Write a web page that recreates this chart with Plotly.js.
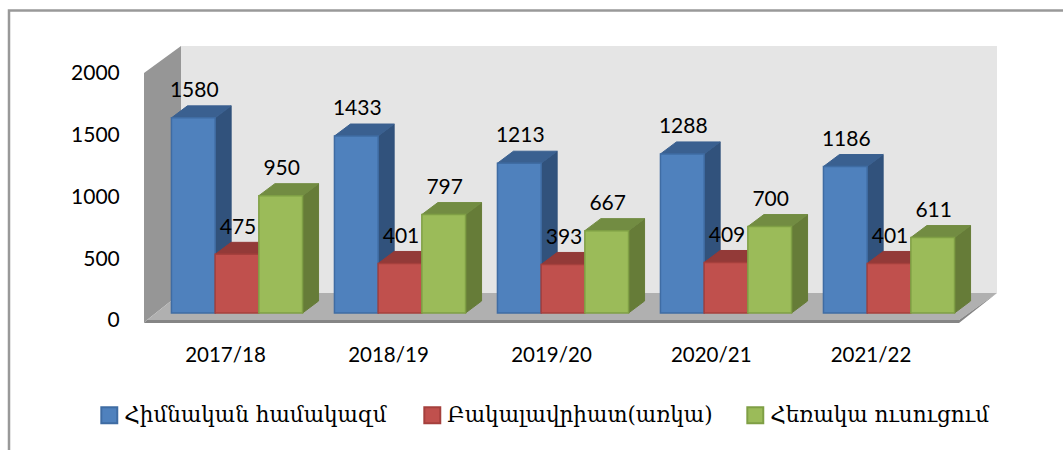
<!DOCTYPE html>
<html>
<head>
<meta charset="utf-8">
<script src="https://cdn.plot.ly/plotly-3.0.1.min.js"></script>
<style>html,body{margin:0;padding:0;background:#fff}#chart{width:1063px;height:450px}</style>
</head>
<body>
<div id="chart"></div>
<script>
const categories = ["2017/18","2018/19","2019/20","2020/21","2021/22"];
const seriesNames = ["Հիմնական համակազմ","Բակալավրիատ(առկա)","Հեռակա ուսուցում"];
const basicStaff = [1580,1433,1213,1288,1186];
const bachelor = [475,401,393,409,401];
const distance = [950,797,667,700,611];
const yTicks = [0,500,1000,1500,2000];

const seriesValues = [basicStaff, bachelor, distance];
const faceColors = ["#4F81BD","#C0504D","#9BBB59"];
const edgeColors = ["#3F6CA3","#A5403D","#7F9F45"];
const sideColors = ["#31527C","#7F3634","#667C38"];
const topColors  = ["#3A6090","#933A38","#728C42"];
const numFont = "Lato, sans-serif";

// Depth geometry in axis units (one category = 163px, 2000 = 247px)
const W = 853, H = 277;
const pxX = 163, pxY = 247/2000;
const xRange = [-0.5, -0.5 + W/pxX];
const yRange = [-3/pxY, (H-3)/pxY];
const barW = 43.7/pxX, groupShift = 11.5/pxX;
const base = 7/pxY, dX = 16/pxX, dY = 12/pxY;
const wallX = 37/pxX, wallY = 27/pxY;
const labelGap = 14/pxY;
const tickSlots = [0,1,2,2.98,3.96];

const traces = [];
seriesValues.forEach((vals, s) => {
  const centers = vals.map((_, i) => i + groupShift + (s-1)*barW);
  const xs = [], ys = [];
  vals.forEach((v, i) => {
    const r = centers[i] + barW/2;
    xs.push(r, r+dX, r+dX, r, r, null);
    ys.push(base, base+dY, base+v+dY, base+v, base, null);
  });
  traces.push({type:"scatter",mode:"lines",x:xs,y:ys,fill:"toself",fillcolor:sideColors[s],
    line:{color:sideColors[s],width:1},showlegend:false,hoverinfo:"skip",zorder:s*3+1});
  const tx = [], ty = [];
  vals.forEach((v, i) => {
    const l = centers[i] - barW/2, r = centers[i] + barW/2;
    tx.push(l, l+dX, r+dX, r, l, null);
    ty.push(base+v, base+v+dY, base+v+dY, base+v, base+v, null);
  });
  traces.push({type:"scatter",mode:"lines",x:tx,y:ty,fill:"toself",fillcolor:topColors[s],
    line:{color:topColors[s],width:1},showlegend:false,hoverinfo:"skip",zorder:s*3+1});
  traces.push({type:"bar",name:seriesNames[s],x:centers,y:vals,base:vals.map(()=>base),width:barW,
    marker:{color:faceColors[s],line:{color:edgeColors[s],width:1.5}},zorder:s*3+2});
});
seriesValues.forEach((vals, s) => {
  traces.push({type:"scatter",mode:"text",showlegend:false,hoverinfo:"skip",zorder:20,
    x:vals.map((_, i) => i + groupShift + (s-1)*barW + 1/pxX),
    y:vals.map(v => base+v+dY+labelGap),
    text:vals.map(String),textposition:"middle center",
    textfont:{family:numFont,size:21,color:"#000"},cliponaxis:false});
});

const x0 = xRange[0], xF = 4.5, xB = xRange[1];
const poly = pts => "M" + pts.map(p => p[0]+","+p[1]).join("L") + "Z";
const stripY = yRange[0];
const xi = 3/pxX;
const bg = [
  [[x0+wallX,wallY+2000],[xB,wallY+2000],[xB,wallY],[x0+wallX,wallY]], "#E5E5E5",
  [[x0,2000],[x0+wallX,2000+wallY],[x0+wallX,wallY],[x0+xi,0],[x0,stripY]], "#969696",
  [[x0+xi,0],[x0+wallX,wallY],[xB,wallY],[xF,0]], "#B0B0B0",
  [[x0,stripY],[x0+xi,0],[xF,0],[xB,wallY],[xF,stripY]], "#858585"
];
const shapes = [];
for (let k=0;k<bg.length;k+=2) {
  shapes.push({type:"path",xref:"x",yref:"y",layer:"below",path:poly(bg[k]),fillcolor:bg[k+1],line:{width:0}});
}
shapes.push({type:"rect",xref:"paper",yref:"paper",xsizemode:"pixel",ysizemode:"pixel",
  xanchor:0,yanchor:1,x0:9-144,x1:1100-144,y0:-10.5+46,y1:-480+46,layer:"below",
  fillcolor:"rgba(0,0,0,0)",line:{color:"#999999",width:2.5}});

const layout = {
  width:1063,height:450,
  margin:{l:144,r:66,t:46,b:127,pad:0},
  paper_bgcolor:"#fff",plot_bgcolor:"rgba(0,0,0,0)",
  barmode:"overlay",showlegend:true,
  font:{family:"Lato, sans-serif",color:"#000"},
  xaxis:{range:xRange,showgrid:false,zeroline:false,showline:false,
    tickmode:"array",tickvals:tickSlots,ticktext:categories,
    ticks:"outside",ticklen:13,tickcolor:"rgba(0,0,0,0)",tickfont:{family:numFont,size:20.5,color:"#000"}},
  yaxis:{range:yRange,showgrid:false,zeroline:false,showline:false,
    tickmode:"array",tickvals:yTicks,ticktext:yTicks.map(String),
    ticks:"outside",ticklen:19,tickcolor:"rgba(0,0,0,0)",tickfont:{family:numFont,size:21,color:"#000"}},
  legend:{orientation:"h",x:-0.07,xref:"paper",xanchor:"left",y:-0.252,yanchor:"top",
    bgcolor:"rgba(0,0,0,0)",font:{family:"DejaVu Serif, serif",size:21.5,color:"#000"},
    entrywidth:278,entrywidthmode:"pixels",itemclick:false,itemdoubleclick:false},
  shapes:shapes
};
Plotly.newPlot("chart",traces,layout,{displayModeBar:false,staticPlot:true}).then(gd => {
  gd.querySelectorAll(".legend .legendpoints path").forEach(p => {
    p.setAttribute("transform","translate(25,2) scale(1.33)");
  });
});
</script>
</body>
</html>
